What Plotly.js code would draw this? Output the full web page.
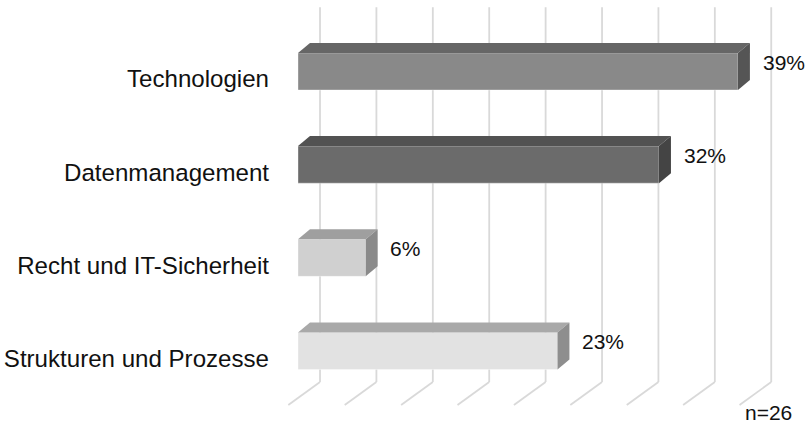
<!DOCTYPE html>
<html>
<head>
<meta charset="utf-8">
<script src="https://cdn.plot.ly/plotly-3.0.1.min.js"></script>
<style>html,body{margin:0;padding:0;background:#fff;}#chart{width:805px;height:427px;}</style>
</head>
<body>
<div id="chart"></div>
<script>
// ---- data ----
const categories = ['Strukturen und Prozesse', 'Recht und IT-Sicherheit', 'Datenmanagement', 'Technologien'];
const values = [23, 6, 32, 39];
const valueLabels = ['23%', '6%', '32%', '39%'];
const gridTicks = [0, 5, 10, 15, 20, 25, 30, 35, 40];
const sampleNote = 'n=26';

// ---- styles ----
const frontColors = ['#e2e2e2', '#d0d0d0', '#6b6b6b', '#898989'];
const topColors = ['#a9a9a9', '#9f9f9f', '#525252', '#666666'];
const sideColors = ['#8e8e8e', '#8a8a8a', '#444444', '#555555'];
const FONT = '"Liberation Sans", Arial, sans-serif';

// 3D geometry (in axis units)
const barHalf = 0.199;      // half height of front face
const depthX = 1.06, depthY = 0.107;   // bar depth
const wallX = 1.95, wallBottom = -0.333, wallTop = 3.69; // back wall
const floorX = -0.86, floorFront = -0.58;                // floor front edge

const pos = categories.map((c, i) => i);

const traces = [];
// front faces
traces.push({
  type: 'bar', orientation: 'h', x: values, y: pos, width: 2 * barHalf,
  marker: {color: frontColors, line: {color: 'rgba(255,255,255,0.35)', width: 1}},
  hoverinfo: 'skip', showlegend: false
});
// top and side faces
values.forEach((v, i) => {
  const top = i + barHalf, bot = i - barHalf;
  traces.push({
    type: 'scatter', mode: 'lines', fill: 'toself', fillcolor: topColors[i],
    line: {width: 0}, hoverinfo: 'skip', showlegend: false,
    x: [0, v, v + depthX, depthX, 0],
    y: [top, top, top + depthY, top + depthY, top]
  });
  traces.push({
    type: 'scatter', mode: 'lines', fill: 'toself', fillcolor: sideColors[i],
    line: {width: 0}, hoverinfo: 'skip', showlegend: false,
    x: [v, v + depthX, v + depthX, v, v],
    y: [top, top + depthY, bot + depthY, bot, top]
  });
});

const shapes = [];
gridTicks.forEach(t => {
  shapes.push({type: 'line', layer: 'below', xref: 'x', yref: 'y',
    x0: t + wallX, x1: t + wallX, y0: wallBottom, y1: wallTop,
    line: {color: '#d9d9d9', width: 1.8}});
  shapes.push({type: 'line', layer: 'below', xref: 'x', yref: 'y',
    x0: t + wallX, x1: t + floorX, y0: wallBottom, y1: floorFront,
    line: {color: '#d9d9d9', width: 1.8}});
});

const annotations = values.map((v, i) => ({
  x: v + 2.0, y: i + 0.1, xref: 'x', yref: 'y', text: valueLabels[i],
  showarrow: false, xanchor: 'left', yanchor: 'middle',
  font: {family: FONT, size: 21, color: '#111111'}
}));
annotations.push({
  x: (768 - 275) / 525, y: 1 - 425 / 427, xref: 'paper', yref: 'paper', text: sampleNote, showarrow: false,
  xanchor: 'center', yanchor: 'bottom', borderpad: 0, font: {family: FONT, size: 21, color: '#111111'}
});

const layout = {
  width: 805, height: 427,
  margin: {l: 275, r: 5, t: 0, b: 0},
  paper_bgcolor: '#ffffff', plot_bgcolor: '#ffffff',
  barmode: 'overlay',
  xaxis: {range: [-2.04, 44.5], showgrid: false, zeroline: false, showticklabels: false, showline: false, fixedrange: true},
  yaxis: {range: [-0.816, 3.767], showgrid: false, zeroline: false, showline: false,
    tickmode: 'array', tickvals: pos.map(p => p - 0.08), ticktext: categories, ticks: '',
    ticklabelstandoff: 5,
    tickfont: {family: FONT, size: 24.1, color: '#111111'}, fixedrange: true},
  shapes: shapes,
  annotations: annotations,
  showlegend: false
};

Plotly.newPlot('chart', traces, layout, {displayModeBar: false, staticPlot: true});
</script>
</body>
</html>
